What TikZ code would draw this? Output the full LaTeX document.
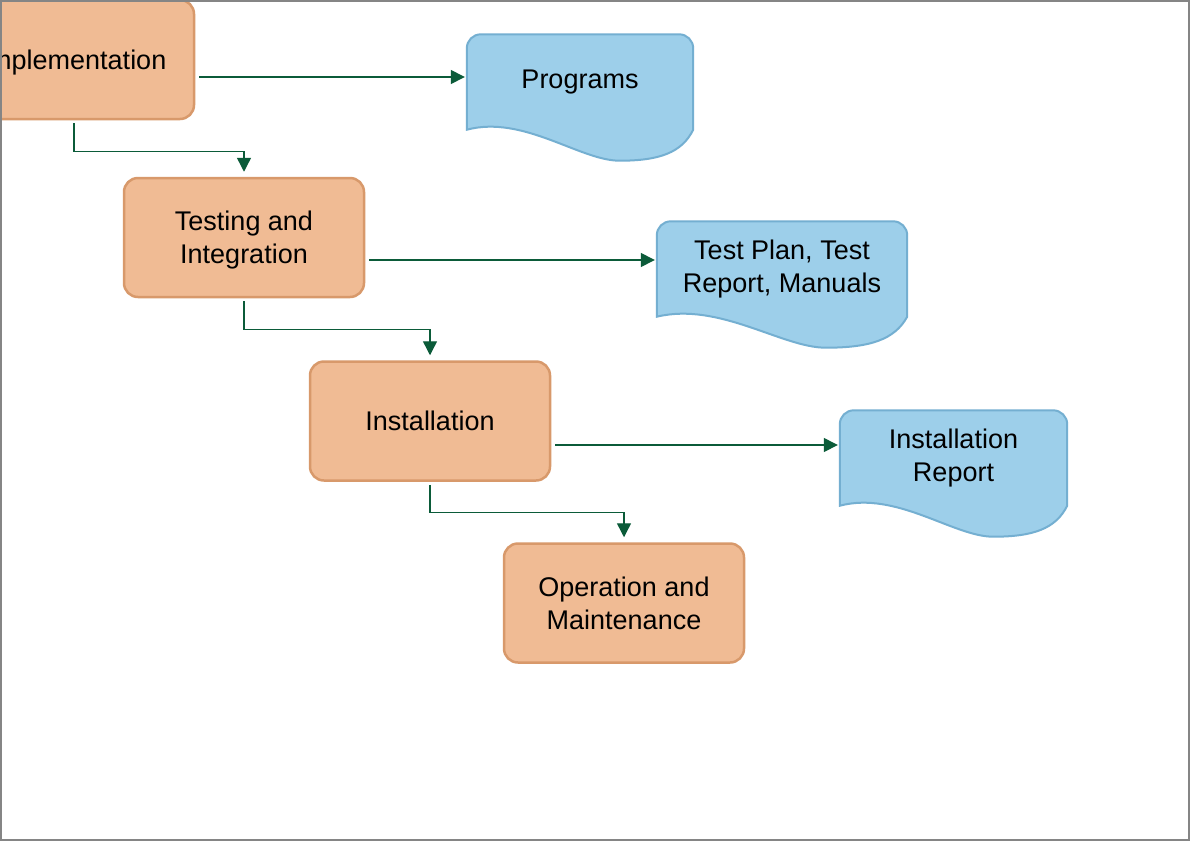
\documentclass[tikz,border=0pt]{standalone}
\usepackage{fontspec}
\setmainfont{Liberation Sans}
\usetikzlibrary{arrows.meta, calc, backgrounds}

\definecolor{phasefill}{HTML}{F0BB94}
\definecolor{phaseline}{HTML}{D8996B}
\definecolor{docfill}{HTML}{9DCFEA}
\definecolor{docline}{HTML}{74AFD1}
\definecolor{flowgreen}{HTML}{0B5B39}
\definecolor{framegray}{HTML}{858585}

\tikzset{
    phase/.style={draw=phaseline, fill=phasefill, line width=2.5pt, rounded corners=14pt,
        minimum width=240pt, minimum height=119pt, align=center, text depth=0pt,
        font=\fontsize{27}{33}\selectfont},
    product/.style={minimum width=#1, minimum height=95pt, inner sep=0pt, align=center,
        text depth=6pt, font=\fontsize{27}{33}\selectfont},
    docpaper/.style={draw=docline, fill=docfill, line width=2pt},
    flow/.style={draw=flowgreen, line width=1.4pt, -{Triangle[length=14pt,width=14pt]}}
}

% wavy sheet under a product node
\newcommand{\sheet}[1]{%
    \path[docpaper] let \p1=(#1.north west), \p2=(#1.south east) in
        (\x1,\y2) [rounded corners=14pt] -- (\x1,\y1) -- (\x2,\y1) [sharp corners] -- (\x2,\y2)
        .. controls ({\x2-0.05*(\x2-\x1)},{\y2-23pt}) and ({\x1+0.85*(\x2-\x1)},{\y2-31pt})
        .. ({\x1+0.675*(\x2-\x1)},{\y2-31pt})
        .. controls ({\x1+0.5*(\x2-\x1)},{\y2-31pt}) and ({\x1+0.25*(\x2-\x1)},{\y2+15pt})
        .. cycle;
}

\begin{document}
\begin{tikzpicture}[x=1pt, y=-1pt]
    \useasboundingbox (0,0) rectangle (1190,841);
    \begin{pgfonlayer}{background}
        \fill[white] (0,0) rectangle (1190,841);
    \end{pgfonlayer}

    \begin{scope}
    \clip (0,0) rectangle (1190,841);

    % phases
    \node[phase] (impl) at (74,59.5) {Implementation};
    \node[phase] (test) at (244,237.5) {Testing and\\Integration};
    \node[phase] (inst) at (430,421) {Installation};
    \node[phase] (oper) at (624,603) {Operation and\\Maintenance};

    % outputs
    \node[product=226pt] (prog) at (580,82) {Programs};
    \node[product=250pt] (plan) at (782,269) {Test Plan, Test\\Report, Manuals};
    \node[product=227pt] (rep) at (953.5,458) {Installation\\Report};

    \begin{pgfonlayer}{background}
        \sheet{prog}
        \sheet{plan}
        \sheet{rep}
    \end{pgfonlayer}

    % phase to phase
    \draw[flow, shorten <=3pt, shorten >=5pt] (impl.south) -- ++(0,31) -| (test.north);
    \draw[flow, shorten <=3pt, shorten >=5pt] (test.south) -- ++(0,31) -| (inst.north);
    \draw[flow, shorten <=3pt, shorten >=5pt] (inst.south) -- ++(0,31) -| (oper.north);

    % phase to output
    \coordinate (implout) at ([yshift=-17.5pt]impl.east);
    \coordinate (testout) at ([yshift=-22.5pt]test.east);
    \coordinate (instout) at ([yshift=-24pt]inst.east);
    \draw[flow, shorten <=4pt, shorten >=2pt] (implout) -- (implout -| prog.west);
    \draw[flow, shorten <=4pt, shorten >=2pt] (testout) -- (testout -| plan.west);
    \draw[flow, shorten <=4pt, shorten >=2pt] (instout) -- (instout -| rep.west);
    \end{scope}

    \draw[framegray, line width=2pt] (1,1) rectangle (1189,840);
\end{tikzpicture}
\end{document}
